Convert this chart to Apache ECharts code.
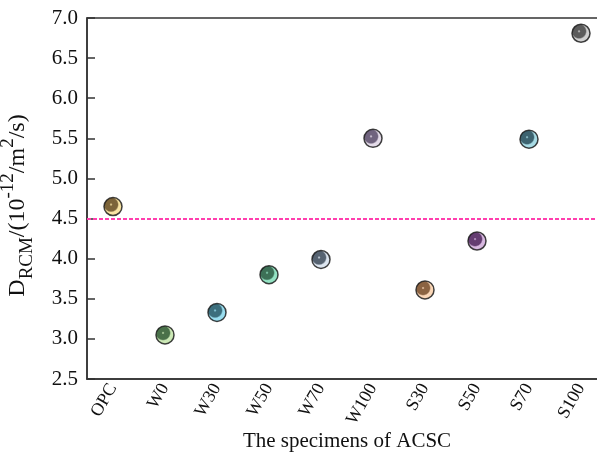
<!DOCTYPE html>
<html>
<head>
<meta charset="utf-8">
<script src="https://cdn.jsdelivr.net/npm/echarts@6/dist/echarts.min.js"></script>
<style>
  html, body { margin: 0; padding: 0; background: #fff; }
  #main { width: 597px; height: 454px; }
</style>
</head>
<body>
<div id="main"></div>
<script>
// specimens and chloride diffusion coefficients
var specimens = ['OPC', 'W0', 'W30', 'W50', 'W70', 'W100', 'S30', 'S50', 'S70', 'S100'];
var drcm = [4.65, 3.05, 3.33, 3.80, 3.99, 5.50, 3.61, 4.22, 5.49, 6.81];
// ball colours: light shell, dark core
var lightCols = ['#f6dc8c', '#bfe3a4', '#7fd4ea', '#79dbb4', '#d3deeb', '#ddd2e3', '#f9cda6', '#cda6d8', '#92d2de', '#c4c4c4'];
var darkCols = ['#5c3d08', '#1c4d1c', '#0b4a5c', '#0c4c2c', '#2c3c4e', '#4c3c5e', '#6e3c12', '#3e0c4e', '#0c3c4c', '#333333'];
var limitLine = 4.5;

var myChart = echarts.init(document.getElementById('main'));
var FONT = 'Liberation Serif';

var points = [];
for (var i = 0; i < specimens.length; i++) {
    points.push({
        value: [specimens[i], drcm[i]],
        itemStyle: {
            color: {
                type: 'radial', x: 0.4, y: 0.4, r: 0.55,
                colorStops: [
                    { offset: 0, color: lightCols[i] },
                    { offset: 0.15, color: darkCols[i] },
                    { offset: 0.6, color: darkCols[i] },
                    { offset: 0.73, color: lightCols[i] },
                    { offset: 1, color: lightCols[i] }
                ]
            }
        }
    });
}

var option = {
    animation: false,
    grid: {
        left: 87, top: 18, width: 520, height: 361,
        outerBoundsMode: 'none',
        containLabel: false,
        show: true, borderColor: '#333', borderWidth: 1.5
    },
    xAxis: {
        type: 'category',
        data: specimens,
        boundaryGap: true,
        name: 'The specimens of ACSC',
        nameLocation: 'middle',
        nameMoveOverlap: false,
        nameGap: 52,
        nameTextStyle: { fontFamily: FONT, fontSize: 21, color: '#111' },
        axisLine: { lineStyle: { color: '#333', width: 1.5 } },
        axisTick: { inside: true, length: 7, alignWithLabel: true, lineStyle: { color: '#333', width: 1.5 } },
        axisLabel: { rotate: 60, fontFamily: FONT, fontSize: 18, color: '#111', margin: 6, interval: 0 },
        splitLine: { show: false }
    },
    yAxis: {
        type: 'value',
        min: 2.5, max: 7.0, interval: 0.5,
        name: '{b|D}{s|RCM}{b|/(10}{p|-12}{b|/m}{p|2}{b|/s)}',
        nameLocation: 'middle',
        nameRotate: 90,
        nameGap: 50,
        nameTextStyle: {
            fontFamily: FONT, color: '#111',
            padding: [0, 14, 0, 0],
            rich: {
                b: { fontFamily: FONT, fontSize: 24, lineHeight: 38, color: '#111' },
                s: { fontFamily: FONT, fontSize: 19, lineHeight: 19, verticalAlign: 'bottom', color: '#111' },
                p: { fontFamily: FONT, fontSize: 19, lineHeight: 19, verticalAlign: 'top', color: '#111' }
            }
        },
        axisLine: { show: true, lineStyle: { color: '#333', width: 1.5 } },
        axisTick: { show: true, inside: true, length: 8, lineStyle: { color: '#333', width: 1.5 } },
        axisLabel: {
            fontFamily: FONT, fontSize: 21, color: '#111', margin: 9,
            formatter: function (v) { return v.toFixed(1); }
        },
        splitLine: { show: false }
    },
    series: [{
        type: 'scatter',
        symbol: 'circle',
        symbolSize: 18,
        itemStyle: { borderColor: '#111', borderWidth: 1.5 },
        data: points,
        markLine: {
            silent: true,
            symbol: 'none',
            label: { show: false },
            lineStyle: { color: '#ff3fae', width: 2, type: [4, 2] },
            data: [{ yAxis: limitLine }]
        }
    }]
};

myChart.setOption(option);
</script>
</body>
</html>
